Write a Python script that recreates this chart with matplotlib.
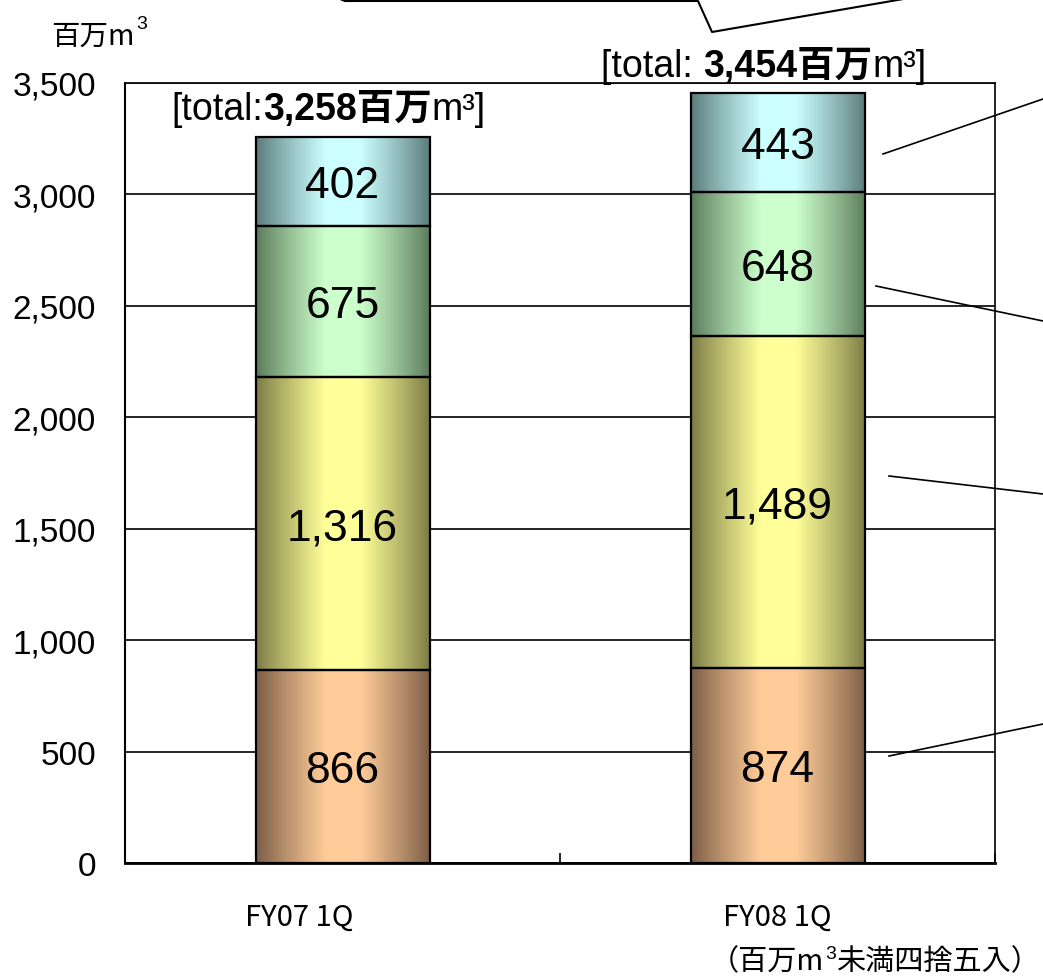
import numpy as np
import matplotlib
matplotlib.use('Agg')
import matplotlib.pyplot as plt
from matplotlib.lines import Line2D
from matplotlib.offsetbox import TextArea, HPacker, AnnotationBbox

# データ (百万m3)
categories = ['FY07 1Q', 'FY08 1Q']
seg1 = [866, 874]
seg2 = [1316, 1489]
seg3 = [675, 648]
seg4 = [402, 443]
totals = [3258, 3454]
total_prefix = ['[total:', '[total: ']
yticks = [0, 500, 1000, 1500, 2000, 2500, 3000, 3500]

# 端の暗い色と中央の明るい色
seg_colors = [
    ('#7a5c45', '#ffcc99'),
    ('#7a7a45', '#ffff99'),
    ('#5a7a5a', '#ccffcc'),
    ('#5a7a7a', '#ccffff'),
]
# カテゴリ名のずれ (points)
label_dx = [-31, 0]

LAT = ['Liberation Sans', 'Noto Sans CJK JP']
JP = ['Noto Sans CJK JP', 'DejaVu Sans']

W, H = 1043, 978


def gradient(dark, light, n=200):
    d = np.array(matplotlib.colors.to_rgb(dark))
    l = np.array(matplotlib.colors.to_rgb(light))
    t = np.linspace(0, 1, n)
    w = 1 - np.abs(2 * t - 1)
    w = np.clip(w * 1.25, 0, 1) ** 0.9
    return (d[None, :] + (l - d)[None, :] * w[:, None])[None, :, :]


def px(x, y):
    return x / W, 1 - y / H


fig = plt.figure(figsize=(W / 100, H / 100), dpi=100)
ax = fig.add_axes([125 / W, 1 - 864 / H, (995 - 125) / W, (864 - 84) / H])

x = np.arange(len(categories))
base = np.zeros(len(categories))
for vals, (dark, light) in zip([seg1, seg2, seg3, seg4], seg_colors):
    bars = ax.bar(x, vals, width=0.4, bottom=base, facecolor='none',
                  edgecolor='black', linewidth=1.6, zorder=3)
    for b, v in zip(bars, vals):
        x0, y0, bw, bh = b.get_x(), b.get_y(), b.get_width(), b.get_height()
        ax.imshow(gradient(dark, light), extent=(x0, x0 + bw, y0, y0 + bh),
                  aspect='auto', zorder=2, interpolation='bilinear')
        ax.annotate(f'{v:,}', (x0 + bw / 2, y0 + bh / 2), xytext=(0, -3),
                    textcoords='offset points', ha='center', va='center',
                    fontsize=32, family=LAT, zorder=4)
    base += np.array(vals)

# 合計ラベル
for i, tot in enumerate(totals):
    parts = [
        TextArea(total_prefix[i], textprops=dict(fontsize=27, family=LAT)),
        TextArea(f'{tot:,}百万', textprops=dict(fontsize=27, family=LAT, weight='bold')),
        TextArea('m³]', textprops=dict(fontsize=27, family=LAT)),
    ]
    box = HPacker(children=parts, align='baseline', pad=0, sep=0)
    ab = AnnotationBbox(box, (x[i], base[i]), xybox=(-10, 7),
                        boxcoords='offset points', box_alignment=(0.5, 0),
                        frameon=False, annotation_clip=False, zorder=5)
    ax.add_artist(ab)

ax.set_xlim(-0.5, 1.5)
ax.set_ylim(0, 3500)
ax.set_yticks(yticks)
ax.set_yticklabels([f'{v:,}' for v in yticks], fontsize=24, family=LAT)
ax.yaxis.grid(True, color='black', linewidth=1.2)
ax.set_axisbelow(True)
ax.tick_params(axis='y', length=0, pad=21)

# x軸: 区切り目盛りのみ、ラベルは個別に配置
ax.set_xticks([-0.5, 0.5, 1.5])
ax.set_xticklabels([])
ax.tick_params(axis='x', direction='in', length=7, width=1.2)
for i, cat in enumerate(categories):
    ax.annotate(cat, (x[i], 0), xycoords=('data', 'axes fraction'),
                xytext=(label_dx[i], -28), textcoords='offset points',
                ha='center', va='top', fontsize=21, family=JP)

ax.spines['left'].set_linewidth(1.5)
ax.spines['bottom'].set_linewidth(2)
ax.spines['top'].set_linewidth(1.2)
ax.spines['right'].set_linewidth(1.2)

# 単位・注記
t_unit = fig.text(*px(51, 45), '百万m', fontsize=20.5, family=JP, va='baseline')
ax.annotate('3', (1, 1), xycoords=t_unit, xytext=(1, 4),
            textcoords='offset points', fontsize=14, family=LAT,
            va='top', ha='left', annotation_clip=False)

t_n1 = fig.text(*px(710, 970), '（百万m', fontsize=21, family=JP, va='baseline')
t_n2 = ax.annotate('3', (1, 1), xycoords=t_n1, xytext=(0.5, 1),
                   textcoords='offset points', fontsize=14, family=LAT,
                   va='top', ha='left', annotation_clip=False)
ax.annotate('未満四捨五入）', (1, 0), xycoords=(t_n2, t_n1), xytext=(0.5, 0),
            textcoords='offset points', fontsize=21, family=JP,
            va='bottom', ha='left', annotation_clip=False)

# 凡例への引き出し線
leaders = [
    ((883, 1043), (155, 100)),
    ((876, 1043), (287, 322)),
    ((889, 1043), (477, 495)),
    ((889, 1043), (757, 725)),
]
for xs, ys in leaders:
    fx = [v / W for v in xs]
    fy = [1 - v / H for v in ys]
    fig.add_artist(Line2D(fx, fy, color='black', linewidth=1.2))

# 上部の吹き出しの下端
bx = [325, 345, 698, 712, 915]
by = [-6, 2, 2, 33, -2]
fig.add_artist(Line2D([v / W for v in bx], [1 - v / H for v in by],
                      color='black', linewidth=1.5))

fig.savefig('out.png', dpi=100)
